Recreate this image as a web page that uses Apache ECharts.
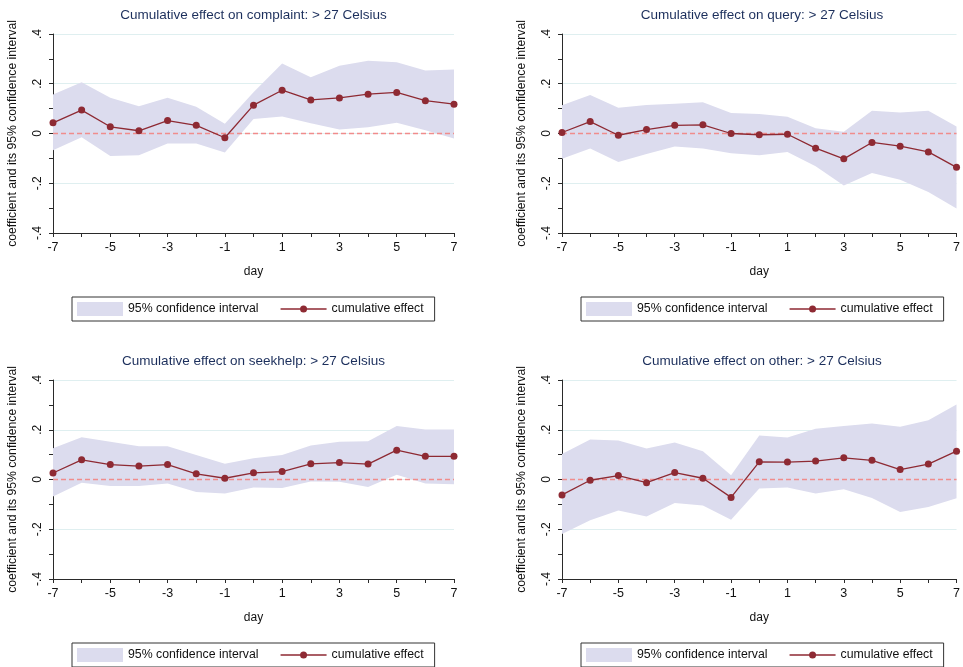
<!DOCTYPE html>
<html>
<head>
<meta charset="utf-8">
<script src="https://cdn.jsdelivr.net/npm/echarts@6/dist/echarts.min.js"></script>
<style>
  html, body { margin: 0; padding: 0; background: #fff; }
  #chart { width: 963px; height: 667px; }
</style>
</head>
<body>
<div id="chart"></div>
<script>
// Event-study days relative to the hot day
const days = [-7, -6, -5, -4, -3, -2, -1, 0, 1, 2, 3, 4, 5, 6, 7];
const xTickLabels = ['-7', '-5', '-3', '-1', '1', '3', '5', '7'];
const yTickLabels = ['-.4', '-.2', '0', '.2', '.4'];
const zeroRef = [0, 0];
const zeroRefDays = [-7, 7];

const panelTitles = [
  'Cumulative effect on complaint: > 27 Celsius',
  'Cumulative effect on query: > 27 Celsius',
  'Cumulative effect on seekhelp: > 27 Celsius',
  'Cumulative effect on other: > 27 Celsius'
];

// complaint
const complaintEffect = [0.043, 0.094, 0.027, 0.011, 0.052, 0.033, -0.017, 0.114, 0.174, 0.135, 0.143, 0.158, 0.165, 0.132, 0.118];
const complaintUpper  = [0.157, 0.206, 0.144, 0.110, 0.144, 0.108, 0.039, 0.166, 0.281, 0.226, 0.272, 0.292, 0.286, 0.253, 0.257];
const complaintLower  = [-0.067, -0.015, -0.090, -0.087, -0.040, -0.040, -0.076, 0.058, 0.068, 0.041, 0.016, 0.025, 0.043, 0.013, -0.020];

// query
const queryEffect = [0.004, 0.048, -0.007, 0.016, 0.033, 0.035, 0.000, -0.005, -0.003, -0.059, -0.102, -0.036, -0.051, -0.074, -0.136];
const queryUpper  = [0.114, 0.155, 0.104, 0.115, 0.120, 0.126, 0.082, 0.078, 0.067, 0.021, 0.007, 0.091, 0.084, 0.091, 0.028];
const queryLower  = [-0.102, -0.060, -0.115, -0.082, -0.052, -0.060, -0.079, -0.087, -0.074, -0.132, -0.209, -0.159, -0.186, -0.235, -0.302];

// seekhelp
const seekhelpEffect = [0.026, 0.079, 0.060, 0.054, 0.060, 0.023, 0.005, 0.027, 0.032, 0.063, 0.068, 0.062, 0.118, 0.093, 0.093];
const seekhelpUpper  = [0.126, 0.170, 0.152, 0.134, 0.134, 0.098, 0.063, 0.085, 0.098, 0.137, 0.152, 0.154, 0.215, 0.201, 0.201];
const seekhelpLower  = [-0.068, -0.013, -0.026, -0.026, -0.016, -0.050, -0.056, -0.032, -0.034, -0.008, -0.009, -0.030, 0.019, -0.016, -0.019];

// other
const otherEffect = [-0.062, -0.003, 0.016, -0.013, 0.028, 0.005, -0.072, 0.071, 0.070, 0.074, 0.087, 0.077, 0.040, 0.062, 0.114];
const otherUpper  = [0.103, 0.161, 0.157, 0.125, 0.149, 0.114, 0.017, 0.177, 0.169, 0.204, 0.215, 0.225, 0.212, 0.238, 0.302];
const otherLower  = [-0.219, -0.164, -0.125, -0.149, -0.094, -0.105, -0.162, -0.036, -0.032, -0.056, -0.039, -0.074, -0.131, -0.111, -0.075];

const panels = [
  { effect: complaintEffect, upper: complaintUpper, lower: complaintLower },
  { effect: queryEffect,     upper: queryUpper,     lower: queryLower },
  { effect: seekhelpEffect,  upper: seekhelpUpper,  lower: seekhelpLower },
  { effect: otherEffect,     upper: otherUpper,     lower: otherLower }
];

// panel placement
const layout = [
  { left: 53,  top: 34,  width: 401 },
  { left: 562, top: 34,  width: 400 },
  { left: 53,  top: 380, width: 401 },
  { left: 562, top: 380, width: 400 }
];
const plotHeight = 199;

const FONT = '"Liberation Sans", Arial, Helvetica, sans-serif';
const ciColor = '#dcdcee';
const lineColor = '#8e2a33';
const axisColor = '#2a2a2a';
const gridColor = '#dfeff0';
const titleColor = '#1c2f5c';
const zeroColor = '#f08c8c';

// legend glyph for the connected-marker line: two bar segments and a dot,
// framed in a 46x14 box so the dot keeps its small size
const lineMarkerIcon = 'path://M0,0 M46,14 M0,6.3 L19.6,6.3 L19.6,7.7 L0,7.7 Z ' +
  'M26.4,6.3 L46,6.3 L46,7.7 L26.4,7.7 Z ' +
  'M26.5,7 A3.5,3.5 0 1 1 19.5,7 A3.5,3.5 0 1 1 26.5,7 Z';

// confidence band: one polygon through the upper bounds and back along the lower bounds
function bandRenderer(upper, lower) {
  return function (params, api) {
    if (params.dataIndex !== 0) return;
    const pts = [];
    for (let k = 0; k < days.length; k++) pts.push(api.coord([days[k], upper[k]]));
    for (let k = days.length - 1; k >= 0; k--) pts.push(api.coord([days[k], lower[k]]));
    return {
      type: 'polygon',
      shape: { points: pts },
      style: { fill: ciColor, stroke: null }
    };
  };
}

const grids = [], xAxes = [], yAxes = [], titles = [], legends = [], series = [];

panels.forEach((p, i) => {
  const L = layout[i];
  grids.push({ left: L.left, top: L.top, width: L.width, height: plotHeight });

  titles.push({
    text: panelTitles[i],
    left: L.left + L.width / 2 - 5,
    top: L.top - 31,
    textAlign: 'center',
    textStyle: { fontFamily: FONT, fontSize: 13.5, fontWeight: 'normal', color: titleColor }
  });

  xAxes.push({
    gridIndex: i, type: 'value', min: -7, max: 7, interval: 2,
    name: 'day', nameLocation: 'middle', nameGap: 33,
    nameTextStyle: { fontFamily: FONT, fontSize: 12, color: '#111' },
    axisLine: { show: true, onZero: false, lineStyle: { color: axisColor, width: 1 } },
    axisTick: { show: true, length: 4, lineStyle: { color: axisColor } },
    minorTick: { show: true, splitNumber: 2, length: 4, lineStyle: { color: axisColor } },
    splitLine: { show: false },
    axisLabel: {
      fontFamily: FONT, fontSize: 12.5, color: '#111', margin: 8,
      formatter: (v, idx) => xTickLabels[idx]
    }
  });

  yAxes.push({
    gridIndex: i, type: 'value', min: -0.4, max: 0.4, interval: 0.2,
    name: 'coefficient and its 95% confidence interval',
    nameLocation: 'middle', nameRotate: 90, nameGap: 34,
    nameTextStyle: { fontFamily: FONT, fontSize: 12.2, color: '#111' },
    axisLine: { show: true, onZero: false, lineStyle: { color: axisColor, width: 1 } },
    axisTick: { show: true, length: 4, lineStyle: { color: axisColor } },
    minorTick: { show: true, splitNumber: 2, length: 4, lineStyle: { color: axisColor } },
    splitLine: { show: true, lineStyle: { color: gridColor, width: 1 } },
    axisLabel: {
      fontFamily: FONT, fontSize: 12, color: '#111', rotate: 90, margin: 9,
      formatter: (v, idx) => yTickLabels[idx]
    }
  });

  legends.push({
    left: L.left + 19, top: L.top + 263,
    orient: 'horizontal',
    itemWidth: 46, itemHeight: 14, itemGap: 22,
    padding: [5, 11, 5, 5],
    borderColor: '#333', borderWidth: 1,
    textStyle: { fontFamily: FONT, fontSize: 12.3, color: '#111' },
    selectedMode: false,
    data: [
      { name: '95% confidence interval', icon: 'rect', itemStyle: { color: ciColor } },
      { name: 'cumulative effect', icon: lineMarkerIcon, itemStyle: { color: lineColor } }
    ]
  });

  series.push({
    name: '95% confidence interval', type: 'custom',
    xAxisIndex: i, yAxisIndex: i,
    data: days.map((d, k) => [d, p.lower[k], p.upper[k]]),
    encode: { x: 0, y: [1, 2] },
    renderItem: bandRenderer(p.upper, p.lower),
    itemStyle: { color: ciColor },
    silent: true, z: 1
  });

  // dashed zero reference line
  series.push({
    name: 'zero reference', type: 'line',
    xAxisIndex: i, yAxisIndex: i,
    data: zeroRefDays.map((d, k) => [d, zeroRef[k]]),
    symbol: 'none', silent: true, z: 2,
    itemStyle: { color: zeroColor },
    lineStyle: { type: [5, 3], color: zeroColor, width: 1.3 }
  });

  series.push({
    name: 'cumulative effect', type: 'line',
    xAxisIndex: i, yAxisIndex: i,
    data: days.map((d, k) => [d, p.effect[k]]),
    symbol: 'circle', symbolSize: 7,
    itemStyle: { color: lineColor },
    lineStyle: { color: lineColor, width: 1.3 },
    z: 3
  });
});

const chart = echarts.init(document.getElementById('chart'), null, { renderer: 'canvas' });
chart.setOption({
  animation: false,
  backgroundColor: '#ffffff',
  title: titles,
  legend: legends,
  grid: grids,
  xAxis: xAxes,
  yAxis: yAxes,
  series: series
});
</script>
</body>
</html>
